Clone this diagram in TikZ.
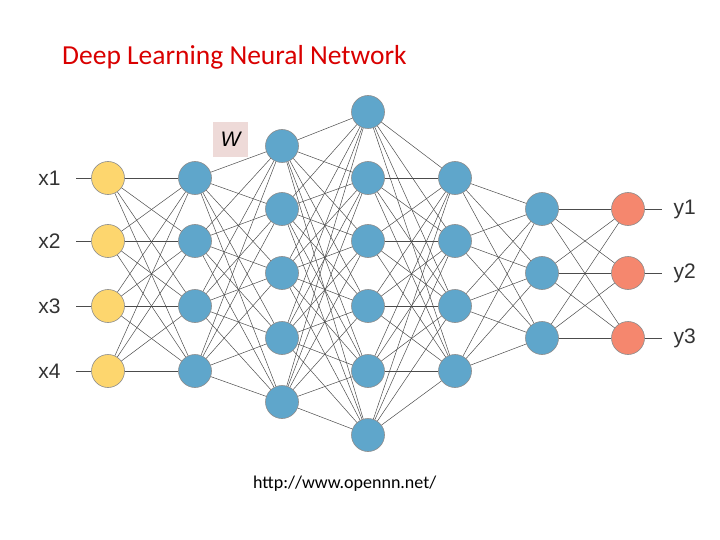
\documentclass[tikz,border=0pt]{standalone}
\usepackage{fontspec}
\setmainfont{Carlito}
\newfontfamily\sansf{Liberation Sans}
\begin{document}
\begin{tikzpicture}[x=1pt,y=-1pt,
 neuron/.style={circle,minimum size=33pt,inner sep=0pt,draw=black!45,line width=0.6pt},
 inp/.style={neuron,fill={rgb,255:red,253;green,214;blue,110}},
 hid/.style={neuron,fill={rgb,255:red,95;green,166;blue,203}},
 outp/.style={neuron,fill={rgb,255:red,245;green,135;blue,110}},
 conn/.style={black!70,line width=0.5pt},
 lab/.style={font=\sansf\fontsize{21}{24}\selectfont,text=black!80}]
\useasboundingbox (0,0) rectangle (720,540);
\node[font=\fontsize{27.5}{32}\selectfont,text=red!85!black,anchor=west,inner sep=0pt] (title) at (62,57) {Deep Learning Neural Network};
\node[font=\fontsize{18}{21}\selectfont,anchor=west,inner sep=0pt] (url) at (253,484) {http://www.opennn.net/};
\node[fill={rgb,255:red,238;green,218;blue,216},minimum width=35pt,minimum height=35pt,inner sep=0pt,font=\sansf\itshape\fontsize{21}{24}\selectfont] (w) at (230.5,139.5) {W};
% layers
\foreach \y [count=\i] in {178,241,306,371} {\node[inp] (a\i) at (108,\y) {};}
\foreach \y [count=\i] in {178,241,306,371} {\node[hid] (b\i) at (195,\y) {};}
\foreach \y [count=\i] in {146,209,273,338,402} {\node[hid] (c\i) at (282,\y) {};}
\foreach \y [count=\i] in {112,178,241,306,371,435} {\node[hid] (d\i) at (368,\y) {};}
\foreach \y [count=\i] in {178,241,306,371} {\node[hid] (e\i) at (455,\y) {};}
\foreach \y [count=\i] in {209,273,338} {\node[hid] (f\i) at (542,\y) {};}
\foreach \y [count=\i] in {209,273,338} {\node[outp] (g\i) at (628,\y) {};}
% connections
\foreach \i in {1,...,4}{\foreach \j in {1,...,4}{\draw[conn] (a\i) -- (b\j);}}
\foreach \i in {1,...,4}{\foreach \j in {1,...,5}{\draw[conn] (b\i) -- (c\j);}}
\foreach \i in {1,...,5}{\foreach \j in {1,...,6}{\draw[conn] (c\i) -- (d\j);}}
\foreach \i in {1,...,6}{\foreach \j in {1,...,4}{\draw[conn] (d\i) -- (e\j);}}
\foreach \i in {1,...,4}{\foreach \j in {1,...,3}{\draw[conn] (e\i) -- (f\j);}}
\foreach \i in {1,...,3}{\foreach \j in {1,...,3}{\draw[conn] (f\i) -- (g\j);}}
\foreach \i/\t/\y in {1/x1/178,2/x2/241,3/x3/306,4/x4/371}{
 \node[lab,anchor=east] (xl\i) at (64,\y) {\t};
 \coordinate (xs\i) at (76,\y);
 \draw[conn] (xs\i) -- (a\i);}
\foreach \i/\t/\y in {1/y1/209,2/y2/273,3/y3/338}{
 \node[lab,anchor=west] (yl\i) at (670,\y) {\t};
 \coordinate (ye\i) at (662,\y);
 \draw[conn] (g\i) -- (ye\i);}
\end{tikzpicture}
\end{document}
